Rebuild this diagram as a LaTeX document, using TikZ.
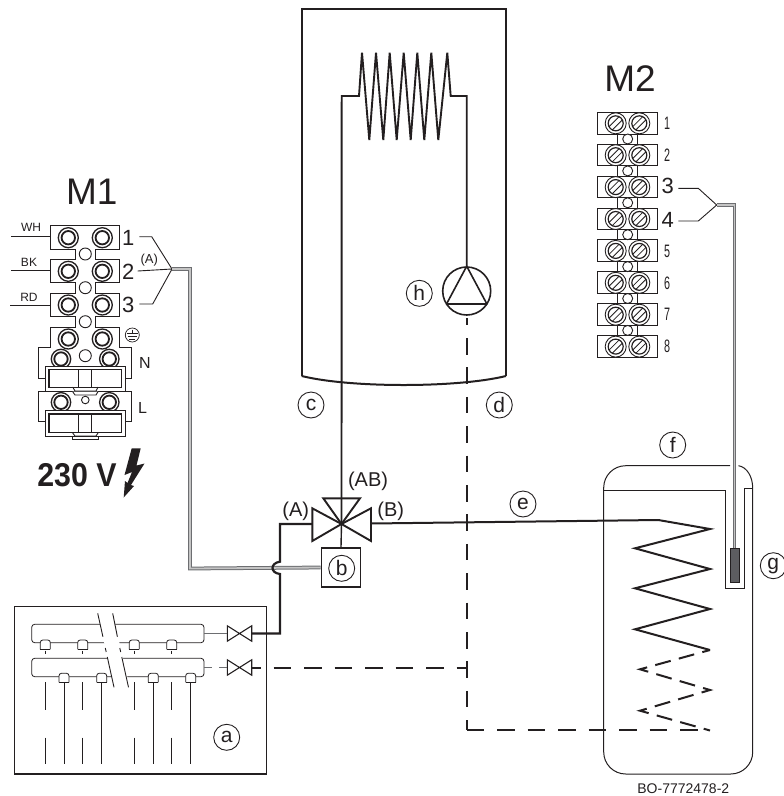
\documentclass[tikz,border=0pt]{standalone}
\usepackage{fontspec}
\setmainfont{Liberation Sans}
\definecolor{ink}{HTML}{231F20}
\definecolor{wiregrey}{HTML}{6D6E71}
\definecolor{corelight}{HTML}{C4C4C4}
\newcommand{\fsz}[1]{\fontsize{#1}{#1}\selectfont}
\tikzset{
	lbl/.style={inner sep=0pt, text=ink, font=\fsz{#1}},
	callout/.style={circle, draw=ink, line width=0.9pt, inner sep=0pt, minimum size=26pt, text=ink, font=\fsz{21}},
	pipe/.style={draw=ink, line width=2pt},
	dashpipe/.style={draw=ink, line width=2.2pt, dash pattern=on 17.5pt off 13pt},
	cable/.style={draw=wiregrey, line width=1pt, double=corelight, double distance=1.8pt},
	thin line/.style={draw=ink, line width=0.9pt},
	hull/.style={draw=ink, line width=2.2pt},
}
\begin{document}
\begin{tikzpicture}[x=1pt, y=-1pt]
\useasboundingbox (0,0) rectangle (784,796);

% boiler
\draw[hull] (301.7,376) -- (301.7,9) -- (506,9) -- (506,376);
\draw[hull, line width=2pt] (301.7,376) .. controls (350,388) and (457,388) .. (506,376);

\coordinate (valve) at (341.5,524);
\coordinate (pumptop) at (466.7,266);
\node[circle, draw=ink, line width=1.6pt, minimum size=48pt, inner sep=0pt] (pump) at (466.7,291) {};
\draw[pipe, line width=1.6pt, line join=round] (pump.north) -- (446.5,304) -- (486.9,304) -- cycle;

\draw[pipe, line width=1.9pt, line join=miter] (valve) -- (341.7,96) -- (359,96) -- (362,52.7)
	-- (369.3,140) -- (376,52.7) -- (383.3,140) -- (389.7,52.7) -- (396.7,140) -- (403.7,52.7)
	-- (410.7,140) -- (417.3,52.7) -- (424.3,140) -- (431.3,52.7) -- (438.3,140) -- (447.3,52.7)
	-- (450.7,96) -- (466.7,96) -- (pump.north);

% terminals M1
\node[lbl=37] (mone) at (91.7,191.5) {M1};
\draw[thin line, fill=white]
	(50.7,225.7) -- (119.3,225.7) -- (119.3,249) -- (95,249) -- (95,259.3) -- (119.3,259.3)
	-- (119.3,282.7) -- (95,282.7) -- (95,293.3) -- (119.3,293.3) -- (119.3,316.7) -- (95,316.7)
	-- (95,327.3) -- (119.3,327.3) -- (119.3,347.7) -- (131.7,347.7) -- (131.7,378.3) -- (125,378.3)
	-- (125,391.7) -- (131.7,391.7) -- (131.7,421.7) -- (125,421.7) -- (125,436.7) -- (98,436.7) -- (98,439.3)
	-- (72.7,439.3) -- (72.7,436.7) -- (45,436.7) -- (45,421.7) -- (38.3,421.7) -- (38.3,391.7) -- (45,391.7)
	-- (45,378.3) -- (38.3,378.3) -- (38.3,347.7) -- (50.7,347.7) -- (50.7,327.3) -- (75,327.3) -- (75,316.7)
	-- (50.7,316.7) -- (50.7,293.3) -- (75,293.3) -- (75,282.7) -- (50.7,282.7) -- (50.7,259.3) -- (75,259.3)
	-- (75,249) -- (50.7,249) -- cycle;
\foreach \x in {68.3,102.3} {
	\foreach \y in {237.7,271.3,305,339} {
		\draw[thin line, line width=1.3pt, fill=white] (\x,\y) circle (10);
		\draw[thin line, line width=1.8pt] (\x,\y) circle (6.7);
	}
}
\foreach \y in {254,287.7,321.7}
\draw[thin line, fill=white] (85.3,\y) circle (6);
\draw[thin line] (85.3,355.7) circle (6);
\draw[thin line] (85.3,400) circle (3.8);
\foreach \x in {61,109.3} {
	\foreach \y in {359,402.3} {
		\draw[thin line, line width=1.3pt] (\x,\y) circle (9.7);
		\draw[thin line, line width=1.8pt] (\x,\y) circle (6.7);
	}
}
% clamps N and L
\foreach \top/\bot in {366/391.7, 410.7/436.7} {
	\draw[thin line, fill=white] (45,\top) rectangle (125,\bot);
	\draw[thin line, line width=1.3pt] (49,\top+3.3) rectangle (121.7,\bot-4);
	\draw[thin line] (78.3,\top+3.3) -- (78.3,\bot-4);
	\draw[thin line] (91.7,\top+3.3) -- (91.7,\bot-4);
}
\draw[thin line, fill=white] (72.7,391.7) -- (75,395) -- (96,395) -- (98,391.7);
\draw[thin line] (72.7,387) -- (75,391) -- (96,391) -- (98,387);
\draw[thin line] (72.7,433) -- (75,436) -- (96,436) -- (98,433);

\draw[thin line] (11,236) -- (50.7,236);
\draw[thin line] (11,270.7) -- (50.7,270.7);
\draw[thin line] (10,305.3) -- (50.7,305.3);
\node[lbl=12] (wh) at (31,227.5) {WH};
\node[lbl=12] (bk) at (29,262) {BK};
\node[lbl=12] (rd) at (29,297) {RD};
\node[lbl=22] (mone1) at (128.3,237.5) {1};
\node[lbl=22] (mone2) at (128.3,271.5) {2};
\node[lbl=22] (mone3) at (128.3,305) {3};
\node[lbl=16] (earthn) at (145,363) {N};
\node[lbl=16] (earthl) at (142.5,408) {L};
\node[lbl=13] (fanlabel) at (149.3,260.5) {(A)};

\node[circle, draw=ink, line width=0.7pt, minimum size=14pt, inner sep=0pt] (earth) at (132.3,335) {};
\draw[thin line, line width=0.7pt] (132.3,329.5) -- (132.3,333.5);
\draw[thin line, line width=0.7pt] (126.8,333.5) -- (137.8,333.5);
\draw[thin line, line width=0.7pt] (127.8,336.5) -- (136.8,336.5);
\draw[thin line, line width=0.7pt] (129.3,339.5) -- (135.3,339.5);

\coordinate (fanone) at (172,269);
\draw[thin line] (139.3,236.7) -- (151.7,236.7) -- (fanone);
\draw[thin line] (137.7,271) -- (fanone);
\draw[thin line] (139.3,304) -- (152.7,304) -- (fanone);

\node[lbl=33, font=\fsz{33}\bfseries, xscale=0.92, transform shape] (volt) at (77,475.5) {230 V};
\fill[ink] (131.7,448.3) -- (140.7,448.3) -- (136.5,465.5) -- (144.5,463.5) -- (131,485) -- (134,486)
	-- (123.7,497.5) -- (125,481) -- (127.5,483) -- (132,472) -- (124.5,475) -- cycle;

% terminals M2
\node[lbl=37] (mtwo) at (630,78.5) {M2};
\draw[thin line, fill=white] (617.7,120) rectangle (637.3,350);
\foreach \y/\text in {123.3/1,155.2/2,187.1/3,219/4,250.9/5,282.8/6,314.7/7,346.6/8} {
	\draw[thin line, fill=white] (597.3,\y-11) rectangle (657.7,\y+10.7);
	\foreach \x in {615.7,639.3} {
		\draw[thin line, fill=white] (\x,\y) circle (10.5);
		\draw[thin line, line width=1.2pt] (\x,\y) circle (7.5);
		\draw[thin line, line width=0.8pt] (\x-3.5,\y+6.7) -- (\x+6.7,\y-3.5);
		\draw[thin line, line width=0.8pt] (\x-6.7,\y+3.5) -- (\x+3.5,\y-6.7);
	}
}
\foreach \y in {139,170.9,202.8,234.7,266.6,298.5,330.4}
\draw[thin line, fill=white] (627.7,\y) circle (5);
\foreach \y/\text in {123.3/1,155.2/2,250.9/5,282.8/6,314.7/7,346.6/8}
\node[lbl=18, xscale=0.6, transform shape, anchor=west] (mtwosmall\text) at (664,\y) {\text};
\node[lbl=22, anchor=west] (mtwo3) at (661.5,186) {3};
\node[lbl=22, anchor=west] (mtwo4) at (661.5,219.5) {4};

\coordinate (fantwo) at (716.7,205);
\draw[thin line] (678.3,188.3) -- (698.3,188.3) -- (fantwo);
\draw[thin line] (678.3,221) -- (698.3,221) -- (fantwo);

% storage tank
\coordinate (sensortop) at (734.5,548);
\draw[thin line, line width=1pt, rounded corners=22pt] (730,465.7) -- (603.7,465.7) -- (603.7,774) -- (752.7,774) -- (752.7,488);
\draw[thin line, line width=1pt] (738.5,465.7) .. controls (747,467) and (752.7,477) .. (752.7,488);
\draw[thin line, line width=1pt] (603.7,490.7) -- (725.3,490.7) -- (725.3,588.3) -- (744,588.3) -- (744,488.7) -- (752.7,488.7);
\draw[cable, line join=miter] (fantwo) -- (734.5,205) -- (sensortop);
\node[draw=ink, fill=wiregrey!85!black, line width=0.8pt, minimum width=9pt, minimum height=33.7pt, inner sep=0pt, anchor=north] (sensor) at (sensortop) {};

% 3-way valve
\draw[pipe, line width=1.9pt, line join=miter] (valve) -- (323.3,498.3) -- (360,498.3) -- cycle;
\draw[pipe, line width=1.9pt, line join=miter] (valve) -- (312.3,508.3) -- (312.3,541) -- cycle;
\draw[pipe, line width=1.9pt, line join=miter] (valve) -- (371,508.3) -- (371,541) -- cycle;
\node[draw=ink, line width=1.4pt, minimum size=39.3pt, inner sep=0pt] (servo) at (341,567.5) {};
\draw[pipe, line width=1.4pt] (valve) -- (servo.north);

\node[lbl=20] (portab) at (368,481.5) {(AB)};
\node[lbl=20] (porta) at (295.7,511) {(A)};
\node[lbl=20] (portb) at (390.7,511) {(B)};

% heating zone
\draw[thin line, line width=1.1pt] (14.3,606.7) rectangle (266.7,774);
\node[draw=ink, line width=0.8pt, rounded corners=3pt, minimum width=172.3pt, minimum height=18.4pt, inner sep=0pt] (manifa) at (117.85,633.5) {};
\node[draw=ink, line width=0.8pt, rounded corners=3pt, minimum width=172.3pt, minimum height=18.4pt, inner sep=0pt] (manifb) at (117.85,667.5) {};
\foreach \x in {45.3,82.7,134.3,171.7} {
	\draw[thin line, line width=0.8pt, fill=white, rounded corners=2.5pt] (\x-5,649.3) -- (\x-5,640) -- (\x+5,640) -- (\x+5,649.3);
	\draw[thin line, line width=0.8pt] (\x-5,649.3) -- (\x+5,649.3);
	\draw[thin line, line width=0.8pt] (\x,650.5) -- (\x,653.5);
	\draw[thin line, line width=0.8pt] (\x,682) -- (\x,710);
	\draw[thin line, line width=0.8pt] (\x,737.5) -- (\x,764.3);
}
\foreach \x in {64,101.7,153.3,190.7} {
	\draw[thin line, line width=0.8pt, fill=white, rounded corners=2.5pt] (\x-5,682.3) -- (\x-5,673.3) -- (\x+5,673.3) -- (\x+5,682.3);
	\draw[thin line, line width=0.8pt] (\x-5,682.3) -- (\x+5,682.3);
	\draw[thin line, line width=0.8pt] (\x,682.3) -- (\x,764.3);
}
\fill[white] (99.2,620) -- (114.2,620) -- (128,680) -- (112.5,680) -- cycle;
\draw[thin line] (97.7,613.3) -- (102.9,636.7);
\draw[thin line] (105.3,648) -- (106.2,652);
\draw[thin line] (107.3,657) -- (114,687.3);
\draw[thin line] (112.7,613.3) -- (117.4,636.7);
\draw[thin line] (119.8,648) -- (120.7,652);
\draw[thin line] (121.8,657) -- (128.5,687.3);

\foreach \y in {633.5,667.5}
\draw[thin line, line width=1.1pt, line join=miter] (227.3,\y-7.7) -- (251.7,\y+7.7) -- (251.7,\y-7.7) -- (227.3,\y+7.7) -- cycle;
\coordinate (valvein) at (227.3,633.5);
\coordinate (valveout) at (251.7,633.5);
\coordinate (returnin) at (227.3,667.5);
\coordinate (returnout) at (251.7,668);
\draw[thin line, draw=wiregrey] (manifa.east) -- (valvein);
\draw[thin line, draw=wiregrey, dash pattern=on 8pt off 7pt] (manifb.east) -- (returnin);

% pipes
\coordinate (pipejoin) at (280,524);
\draw[cable, line join=miter] (fanone) -- (190,269) -- (190,568.5) -- (servo.west);
\draw[pipe, line width=2.2pt, line join=miter] (312.3,524) -- (pipejoin) -- (280,561.7)
	.. controls (270,563) and (270,573) .. (280,574) -- (280,633.5) -- (valveout);
\draw[pipe, line width=2pt] (371,523.5) -- (658.3,520) -- (710,529) -- (635,548.3) -- (710,569) -- (635,588.3)
	-- (710,609) -- (635,629.3) -- (710,650);
\draw[dashpipe, line width=2pt, dash pattern=on 16pt off 8.4pt, dash phase=8pt] (710,650) -- (640,669.3) -- (710,690) -- (640,710.7) -- (710,730.5);
\draw[dashpipe, dash phase=8.7pt] (returnout) -- (466.7,668);
\draw[dashpipe, dash pattern=on 16.5pt off 12.9pt, dash phase=9.4pt] (466.7,318) -- (466.7,730);
\draw[dashpipe] (466.7,730) -- (710,730);

% callouts
\node[callout] (calla) at (226.7,737.3) {a};
\node[callout] (callb) at (341.7,568.3) {b};
\node[callout] (callc) at (311,405) {c};
\node[callout] (calld) at (499.3,405) {d};
\node[callout] (calle) at (523,504) {e};
\node[callout] (callf) at (672.7,445) {f};
\node[callout] (callg) at (773.3,565.7) {g};
\node[callout] (callh) at (419.3,293.3) {h};

\node[lbl=14] (code) at (683.3,789) {BO-7772478-2};

\end{tikzpicture}
\end{document}
